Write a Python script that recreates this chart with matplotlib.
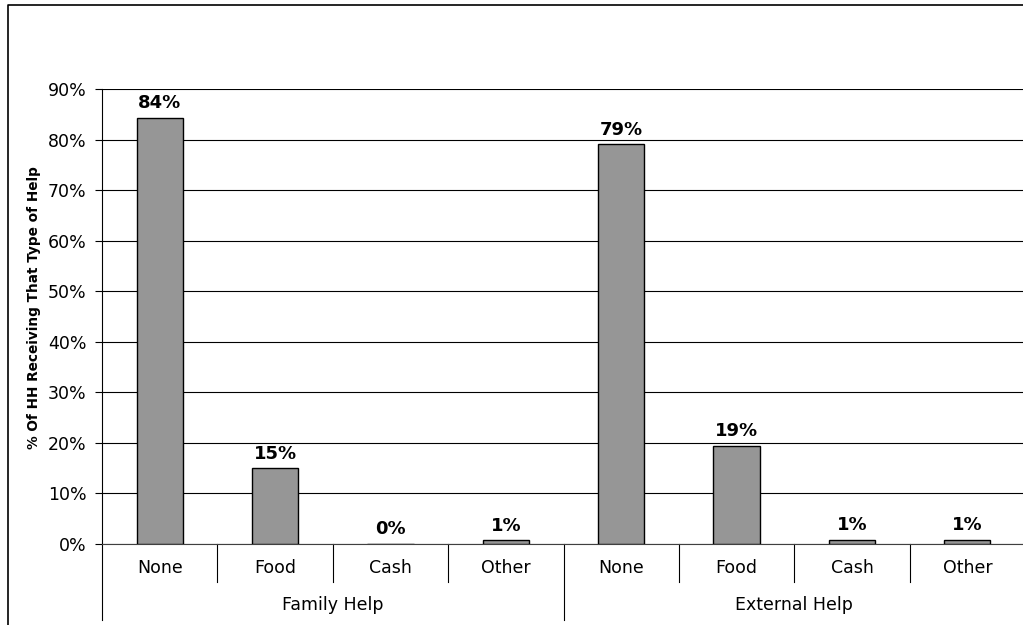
import numpy as np
import matplotlib.pyplot as plt
import matplotlib.transforms as mtransforms
from matplotlib.lines import Line2D

categories = ['None', 'Food', 'Cash', 'Other', 'None', 'Food', 'Cash', 'Other']
groups = ['Family Help', 'External Help']
values = [84.3, 15.0, 0.0, 0.7, 79.1, 19.4, 0.8, 0.8]
labels = ['84%', '15%', '0%', '1%', '79%', '19%', '1%', '1%']
yticks = [0, 10, 20, 30, 40, 50, 60, 70, 80, 90]

W, H = 1023, 625
fig = plt.figure(figsize=(W / 100, H / 100), dpi=100)
ax = fig.add_axes([102 / W, 1 - 544 / H, 923 / W, 455 / H])

x = np.arange(len(categories))
ax.bar(x, values, width=0.4, color='#969696', edgecolor='black', linewidth=1, zorder=3)

for xi, v, lab in zip(x, values, labels):
    ax.annotate(lab, (xi, v), xytext=(0, 4), textcoords='offset points',
                ha='center', va='bottom', fontsize=13, fontweight='bold')

ax.set_xlim(-0.5, 7.5)
ax.set_ylim(0, 90)
ax.set_yticks(yticks)
ax.set_yticklabels([f'{t}%' for t in yticks], fontsize=12.5)
ax.yaxis.grid(True, color='black', linewidth=0.8, zorder=0)
ax.set_axisbelow(True)
ax.tick_params(axis='y', length=5, width=0.8, color='black', pad=6)
ax.set_xticks([])
for s in ['top', 'right']:
    ax.spines[s].set_visible(False)
ax.spines['left'].set_linewidth(0.8)
ax.spines['bottom'].set_linewidth(0.8)
ax.spines['bottom'].set_color('#404040')
ax.set_ylabel('% Of HH Receiving That Type of Help', fontsize=9.8, fontweight='bold')
ax.yaxis.set_label_coords(-0.066, 0.52)

# category axis lines and labels
trans = mtransforms.blended_transform_factory(ax.transData, ax.transAxes)
short = -38 / 455
tall = -76 / 455
for i in range(len(categories) + 1):
    xs = i - 0.5
    y0 = tall if i % 4 == 0 else short
    ax.plot([xs, xs], [0, y0], color='black', linewidth=0.8, transform=trans, clip_on=False)
for xi, c in zip(x, categories):
    ax.text(xi, -24 / 455, c, transform=trans, ha='center', va='center', fontsize=12.5)
for gi, g in enumerate(groups):
    ax.text(gi * 4 + 1.5, -61 / 455, g, transform=trans, ha='center', va='center', fontsize=12.5)

# outer border of the chart: left and top edges only are in view
bx, by = 7.5 / W, 1 - 4.5 / H
fig.lines.append(Line2D([bx, bx, 1.0], [0.0, by, by], transform=fig.transFigure,
                        color='black', linewidth=1.2))

fig.savefig('out.png', dpi=100)
